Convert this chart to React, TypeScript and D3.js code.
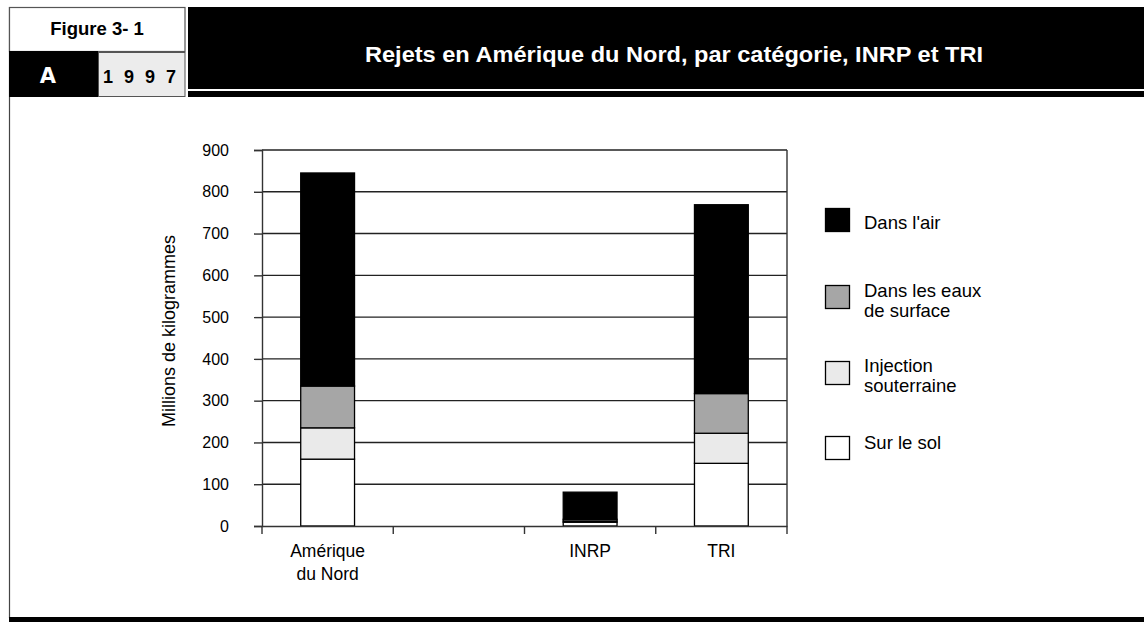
import React, { useRef, useEffect } from 'react';
import * as d3 from 'd3';

const categories = ['Amérique du Nord', '', 'INRP', 'TRI'];
const series = ['Sur le sol', 'Injection souterraine', 'Dans les eaux de surface', "Dans l'air"];
const surLeSol = [160, 0, 9, 150];
const injection = [75, 0, 3, 72];
const eauxSurface = [100, 0, 4, 95];
const air = [510, 0, 65, 452];
const yTicks = [0, 100, 200, 300, 400, 500, 600, 700, 800, 900];
const colors = ['#ffffff', '#eaeaea', '#a6a6a6', '#000000'];
const legendLabels = [["Dans l'air"], ['Dans les eaux', 'de surface'], ['Injection', 'souterraine'], ['Sur le sol']];
const legendColors = ['#000000', '#a6a6a6', '#eaeaea', '#ffffff'];

const FONT = '"Liberation Sans", Arial, sans-serif';

const App = () => {
  const ref = useRef<SVGGElement>(null);

  useEffect(() => {
    const g = d3.select(ref.current);
    g.selectAll('*').remove();

    const left = 262, right = 787, top = 150, bottom = 526;

    const table = categories.map((c, i) => ({
      cat: c,
      key: String(i),
      [series[0]]: surLeSol[i],
      [series[1]]: injection[i],
      [series[2]]: eauxSurface[i],
      [series[3]]: air[i],
    }));

    const x = d3.scaleBand().domain(table.map(d => d.key)).range([left, right]).paddingInner(0).paddingOuter(0);
    const y = d3.scaleLinear().domain([0, 900]).range([bottom, top]);

    // grid
    g.append('g')
      .selectAll('line')
      .data(yTicks.slice(1))
      .enter()
      .append('line')
      .attr('x1', left)
      .attr('x2', right)
      .attr('y1', d => y(d))
      .attr('y2', d => y(d))
      .attr('stroke', '#222')
      .attr('stroke-width', 1.4);

    // right border
    g.append('line')
      .attr('x1', right).attr('x2', right).attr('y1', top).attr('y2', bottom)
      .attr('stroke', '#333').attr('stroke-width', 1.4);

    // bars
    const stack = d3.stack<any>().keys(series);
    const layers = stack(table as any);
    const bw = x.bandwidth() * 0.41;
    layers.forEach((layer, li) => {
      g.append('g')
        .selectAll('rect')
        .data(layer.filter(d => d[1] - d[0] > 0))
        .enter()
        .append('rect')
        .attr('x', d => (x((d.data as any).key) as number) + x.bandwidth() / 2 - bw / 2)
        .attr('y', d => y(d[1]))
        .attr('width', bw)
        .attr('height', d => y(d[0]) - y(d[1]))
        .attr('fill', colors[li])
        .attr('stroke', '#000')
        .attr('stroke-width', 1.3);
    });

    // y axis
    const yAxis = g.append('g')
      .attr('transform', `translate(${left},0)`)
      .call(d3.axisLeft(y).tickValues(yTicks).tickSize(8).tickPadding(25).tickFormat(d3.format('d')));
    yAxis.select('.domain').attr('stroke', '#333').attr('stroke-width', 1.4);
    yAxis.selectAll('.tick line').attr('stroke', '#333').attr('stroke-width', 1.4);
    yAxis.selectAll('.tick text')
      .attr('font-family', FONT).attr('font-size', 16).attr('fill', '#000');

    // x axis
    const xAxis = g.append('g')
      .attr('transform', `translate(0,${bottom})`)
      .call(d3.axisBottom(x).tickSize(0).tickFormat(() => ''));
    xAxis.select('.domain').attr('stroke', '#333').attr('stroke-width', 1.4);
    const bounds = [left, ...table.map(d => (x(d.key) as number) + x.bandwidth())];
    g.append('g')
      .selectAll('line')
      .data(bounds)
      .enter()
      .append('line')
      .attr('x1', d => d).attr('x2', d => d)
      .attr('y1', bottom).attr('y2', bottom + 8)
      .attr('stroke', '#333').attr('stroke-width', 1.4);

    // x labels
    table.forEach(d => {
      const words = d.cat === 'Amérique du Nord' ? ['Amérique', 'du Nord'] : [d.cat];
      const cx = (x(d.key) as number) + x.bandwidth() / 2;
      const t = g.append('text')
        .attr('x', cx)
        .attr('y', 557)
        .attr('text-anchor', 'middle')
        .attr('font-family', FONT)
        .attr('font-size', 17.5);
      words.forEach((w, i) => t.append('tspan').attr('x', cx).attr('dy', i === 0 ? 0 : 23).text(w));
    });

    // y title
    g.append('text')
      .attr('transform', 'translate(175,331) rotate(-90)')
      .attr('text-anchor', 'middle')
      .attr('font-family', FONT)
      .attr('font-size', 18)
      .text('Millions de kilogrammes');

    // legend
    const legendY = [208, 285, 361, 436];
    const legendBase = [229, 296.5, 371.5, 449];
    legendLabels.forEach((lines, i) => {
      g.append('rect')
        .attr('x', 825.5).attr('y', legendY[i] + 0.5).attr('width', 24).attr('height', 23)
        .attr('fill', legendColors[i]).attr('stroke', '#000').attr('stroke-width', 1.3);
      const t = g.append('text')
        .attr('x', 864)
        .attr('y', legendBase[i])
        .attr('font-family', FONT)
        .attr('font-size', 18.5);
      lines.forEach((l, j) => t.append('tspan').attr('x', 864).attr('dy', j === 0 ? 0 : 20.5).text(l));
    });
  }, []);

  return (
    <svg width={1144} height={623} style={{ position: 'absolute', left: 0, top: 0, background: '#fff' }}>
      {/* frame */}
      <line x1={9.5} x2={9.5} y1={7} y2={618} stroke="#444" strokeWidth={1.2} />
      <rect x={9} y={617} width={1135} height={5} fill="#000" />
      {/* Figure box */}
      <rect x={9.5} y={7.5} width={175.5} height={44} fill="#fff" stroke="#555" strokeWidth={1.2} />
      <text x={97} y={34.5} textAnchor="middle" fontFamily={FONT} fontWeight="bold" fontSize={18.5}>Figure 3- 1</text>
      <rect x={9} y={51} width={89} height={46} fill="#000" />
      <text x={48} y={83} textAnchor="middle" fontFamily='"DejaVu Sans", sans-serif' fontWeight="bold" fontSize={21} fill="#fff">A</text>
      <rect x={98.5} y={52.5} width={86.5} height={44} fill="#ececec" stroke="#555" strokeWidth={1} />
      <text x={103} y={83} fontFamily={FONT} fontWeight="bold" fontSize={18} letterSpacing={11}>1997</text>
      {/* header */}
      <rect x={188} y={7} width={956} height={82} fill="#000" />
      <rect x={188} y={91} width={956} height={6} fill="#000" />
      <text x={365} y={62} fontFamily={FONT} fontWeight="bold" fontSize={22.5} fill="#fff"
        textLength={618} lengthAdjust="spacingAndGlyphs">
        Rejets en Amérique du Nord, par catégorie, INRP et TRI
      </text>
      <g ref={ref} />
    </svg>
  );
};

export default App;
